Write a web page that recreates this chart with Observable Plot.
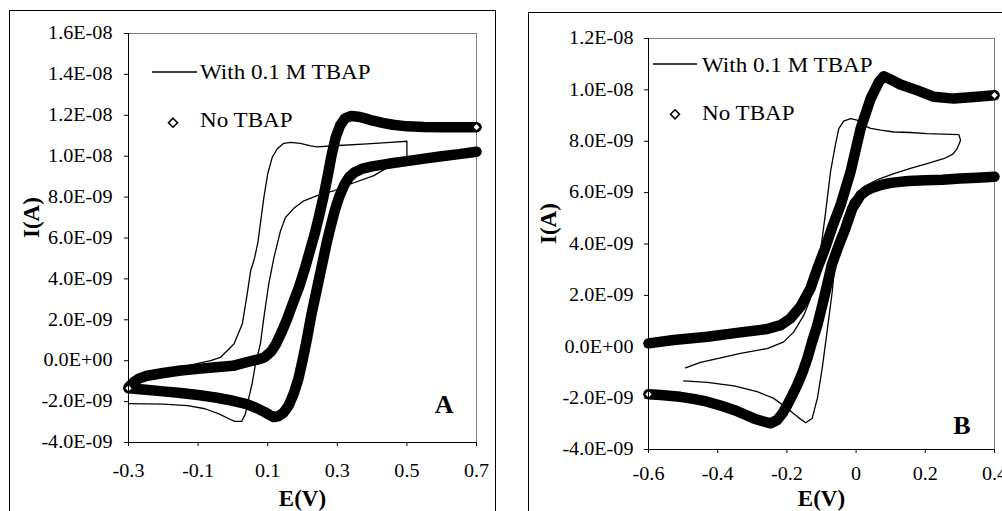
<!DOCTYPE html>
<html><head><meta charset="utf-8">
<script src="https://cdn.jsdelivr.net/npm/d3@7"></script>
<script src="https://cdn.jsdelivr.net/npm/@observablehq/plot@0.6"></script>
<style>
html,body{margin:0;padding:0;background:#fff;}
#page{position:relative;width:1002px;height:511px;overflow:hidden;background:#fff;font-family:'Liberation Serif','Times New Roman',serif;}
.box{position:absolute;border:1px solid #000;box-sizing:border-box;}
.plotwrap{position:absolute;}
.plotwrap svg{display:block;max-width:none;overflow:visible;}
#legend{position:absolute;left:0;top:0;pointer-events:none;}
</style></head><body>
<div id="page">
  <div class="box" style="left:9px;top:10px;width:487px;height:540px"></div>
  <div class="box" style="left:528px;top:12px;width:540px;height:540px"></div>
  <div class="plotwrap" id="A" style="left:10px;top:11px"></div>
  <div class="plotwrap" id="B" style="left:529px;top:13px"></div>
  <svg id="legend" width="1002" height="511"></svg>
</div>
<script>
// ---------- shared text ----------
const xTitle = "E(V)";
const yTitle = "I(A)";
const legendLabels = ["With 0.1 M TBAP", "No TBAP"];

// ---------- Panel A ----------
const xDomainA = [-0.3, 0.7];
const yDomainA = [-4, 16];             // current in 1E-09 A
const xTicksA = [-0.3, -0.1, 0.1, 0.3, 0.5, 0.7];
const xTickLabelsA = ["-0.3", "-0.1", "0.1", "0.3", "0.5", "0.7"];
const yTicksA = [-4, -2, 0, 2, 4, 6, 8, 10, 12, 14, 16];
const yTickLabelsA = ["-4.0E-09","-2.0E-09","0.0E+00","2.0E-09","4.0E-09","6.0E-09","8.0E-09","1.0E-08","1.2E-08","1.4E-08","1.6E-08"];
// With 0.1 M TBAP, [E (V), I (1E-09 A)]
const tbapA = [
  [-0.30,-2.10],[-0.20,-2.12],[-0.13,-2.20],[-0.08,-2.35],[-0.04,-2.60],[-0.01,-2.85],[0.005,-2.97],[0.025,-2.97],
  [0.036,-2.60],[0.046,-1.79],[0.055,-1.14],[0.065,-0.16],[0.079,0.82],[0.089,2.12],[0.103,3.75],[0.118,5.05],
  [0.137,6.36],[0.151,7.00],[0.175,7.45],[0.204,7.82],[0.242,8.07],[0.271,8.23],[0.290,8.31],[0.338,8.64],
  [0.405,9.05],[0.450,9.50],[0.500,10.00],[0.500,10.73],[0.453,10.68],[0.386,10.60],[0.290,10.51],[0.242,10.46],
  [0.223,10.51],[0.194,10.63],[0.166,10.68],[0.146,10.63],[0.127,10.35],[0.113,9.94],[0.100,9.13],[0.089,7.99],
  [0.079,6.70],[0.072,5.80],[0.062,5.00],[0.051,4.40],[0.041,3.26],[0.027,1.79],[0.003,0.82],[-0.036,0.16],
  [-0.064,0.00],[-0.12,-0.20],[-0.20,-0.50],[-0.30,-1.20]
];
// No TBAP, negative-going sweep
const noA_neg = [
  [0.70,10.22],[0.65,10.10],[0.60,10.00],[0.55,9.88],[0.50,9.76],[0.45,9.64],[0.40,9.50],[0.37,9.38],[0.35,9.22],
  [0.335,9.00],[0.32,8.60],[0.305,8.00],[0.292,7.30],[0.28,6.50],[0.27,5.80],[0.255,4.60],[0.24,3.40],[0.225,2.20],
  [0.212,1.00],[0.20,0.00],[0.188,-0.90],[0.175,-1.60],[0.16,-2.20],[0.145,-2.55],[0.13,-2.72],[0.117,-2.75],
  [0.105,-2.65],[0.09,-2.50],[0.07,-2.33],[0.04,-2.12],[0.00,-1.96],[-0.05,-1.80],[-0.10,-1.68],[-0.15,-1.58],
  [-0.20,-1.50],[-0.25,-1.42],[-0.30,-1.35]
];
// No TBAP, positive-going sweep
const noA_pos = [
  [-0.30,-1.30],[-0.285,-1.05],[-0.27,-0.88],[-0.25,-0.75],[-0.20,-0.60],[-0.15,-0.48],[-0.10,-0.40],[-0.05,-0.32],
  [0.00,-0.25],[0.04,-0.07],[0.07,0.05],[0.09,0.16],[0.11,0.45],[0.125,0.85],[0.14,1.40],[0.155,2.00],[0.17,2.70],
  [0.19,3.60],[0.205,4.40],[0.22,5.30],[0.235,6.20],[0.248,7.10],[0.26,8.00],[0.272,9.00],[0.283,10.00],[0.295,10.90],
  [0.308,11.50],[0.322,11.85],[0.34,11.97],[0.36,11.93],[0.38,11.85],[0.40,11.75],[0.43,11.63],[0.46,11.54],
  [0.50,11.46],[0.55,11.43],[0.60,11.42],[0.65,11.42],[0.70,11.42]
];

// ---------- Panel B ----------
const xDomainB = [-0.6, 0.4];
const yDomainB = [-4, 12];
const xTicksB = [-0.6, -0.4, -0.2, 0, 0.2, 0.4];
const xTickLabelsB = ["-0.6", "-0.4", "-0.2", "0", "0.2", "0.4"];
const yTicksB = [-4, -2, 0, 2, 4, 6, 8, 10, 12];
const yTickLabelsB = ["-4.0E-09","-2.0E-09","0.0E+00","2.0E-09","4.0E-09","6.0E-09","8.0E-09","1.0E-08","1.2E-08"];
const tbapB = [
  [-0.498,-1.33],[-0.43,-1.39],[-0.353,-1.52],[-0.286,-1.75],[-0.238,-2.01],[-0.199,-2.40],[-0.17,-2.72],[-0.146,-2.96],
  [-0.127,-2.79],[-0.112,-2.01],[-0.098,-0.84],[-0.084,0.58],[-0.069,2.14],[-0.06,3.43],[-0.05,4.30],[-0.035,5.00],
  [-0.015,5.70],[0.02,6.20],[0.06,6.50],[0.109,6.74],[0.157,6.94],[0.205,7.13],[0.253,7.32],[0.28,7.50],[0.292,7.71],
  [0.302,8.04],[0.297,8.26],[0.25,8.28],[0.205,8.30],[0.157,8.34],[0.109,8.36],[0.071,8.43],[0.042,8.50],[0.022,8.62],
  [0.003,8.82],[-0.016,8.88],[-0.036,8.78],[-0.05,8.49],[-0.06,7.85],[-0.074,6.81],[-0.088,5.25],[-0.103,3.70],
  [-0.117,2.79],[-0.132,1.88],[-0.151,1.23],[-0.18,0.58],[-0.209,0.19],[-0.257,-0.07],[-0.334,-0.26],[-0.401,-0.46],
  [-0.45,-0.61],[-0.493,-0.82]
];
const noB_neg = [
  [0.40,6.62],[0.35,6.58],[0.30,6.55],[0.25,6.50],[0.20,6.48],[0.15,6.45],[0.10,6.38],[0.07,6.29],[0.045,6.18],
  [0.03,6.08],[0.013,5.90],[-0.011,5.38],[-0.031,4.60],[-0.05,3.95],[-0.07,3.20],[-0.084,2.40],[-0.098,1.60],
  [-0.112,0.84],[-0.127,0.20],[-0.141,-0.46],[-0.155,-1.00],[-0.17,-1.49],[-0.185,-1.90],[-0.199,-2.27],
  [-0.213,-2.60],[-0.228,-2.85],[-0.247,-2.98],[-0.27,-2.90],[-0.296,-2.79],[-0.325,-2.62],[-0.353,-2.46],
  [-0.39,-2.30],[-0.43,-2.14],[-0.47,-2.03],[-0.508,-1.95],[-0.565,-1.88],[-0.60,-1.85]
];
const noB_pos = [
  [-0.60,0.13],[-0.527,0.26],[-0.43,0.39],[-0.334,0.56],[-0.257,0.69],[-0.218,0.84],[-0.19,1.10],[-0.161,1.56],
  [-0.132,2.27],[-0.112,3.05],[-0.09,3.82],[-0.068,4.70],[-0.045,5.51],[-0.016,6.81],[0.013,8.49],[0.042,9.66],
  [0.066,10.31],[0.08,10.53],[0.10,10.40],[0.128,10.21],[0.177,9.98],[0.225,9.73],[0.282,9.66],[0.34,9.72],[0.40,9.79]
];

const FONT = "'Liberation Serif','Times New Roman',serif";

function panel(o) {
  const tbRows = o.tbap.map(([E, I]) => ({E, I}));
  const noRows = [
    ...o.neg.map(([E, I]) => ({E, I, s: "neg"})),
    ...o.pos.map(([E, I]) => ({E, I, s: "pos"}))
  ];
  const svg = Plot.plot({
    width: o.width, height: o.height,
    marginLeft: o.ml, marginRight: o.mr, marginTop: o.mt, marginBottom: o.mb,
    x: {domain: o.xDomain},
    y: {domain: o.yDomain},
    style: {fontFamily: FONT, fontSize: "18px", background: "white", color: "black", overflow: "visible"},
    marks: [
      Plot.frame({stroke: "#808080", strokeWidth: 1}),
      Plot.line(tbRows, {x: "E", y: "I", stroke: "black", strokeWidth: 1.3}),
      Plot.line(noRows, {x: "E", y: "I", z: "s", stroke: "black", strokeWidth: 10.5, strokeLinejoin: "round", strokeLinecap: "round"}),
      Plot.dot(noRows, Plot.selectLast({x: "E", y: "I", z: "s", symbol: "diamond2", r: 3.8, fill: "white", stroke: "black", strokeWidth: 1.6})),
      Plot.ruleX([o.xDomain[0]], {stroke: "black"}),
      Plot.ruleY([o.yDomain[0]], {stroke: "black"}),
      Plot.axisX(o.xTicks, {tickSize: 4, tickPadding: o.xPad, tickFormat: d => o.xLabels[o.xTicks.indexOf(d)], label: null, fontSize: 18}),
      Plot.axisY(o.yTicks, {tickSize: 4, tickPadding: o.yPad, tickFormat: d => o.yLabels[o.yTicks.indexOf(d)], label: null, fontSize: 18}),
      Plot.text([xTitle], {text: d => d, frameAnchor: "bottom", lineAnchor: "bottom", dy: o.xTitleDy, fontWeight: "bold", fontSize: 23, ariaLabel: "axis title"}),
      Plot.text([yTitle], {text: d => d, frameAnchor: "left", rotate: -90, dx: o.yTitleDx, fontWeight: "bold", fontSize: 23, ariaLabel: "axis title"}),
      Plot.text([o.letter], {text: d => d, frameAnchor: "bottom-right", textAnchor: "end", lineAnchor: "bottom", dx: o.letterDx, dy: o.letterDy, fontWeight: "bold", fontSize: 26, ariaLabel: "panel letter"})
    ]
  });
  const rules = [
    ['g[aria-label="x-axis tick label"] text', 1.12],
    ['g[aria-label="y-axis tick label"] text', 1.12],
    ['g[aria-label="axis title"] text', 1.18],
    ['g[aria-label="panel letter"] text', 1.12]
  ];
  for (const [sel, k] of rules) {
    svg.querySelectorAll(sel).forEach(t => {
      const tr = t.getAttribute("transform") || "";
      t.setAttribute("transform", tr + ` scale(${k},1)`);
    });
  }
  return svg;
}

document.getElementById("A").appendChild(panel({
  width: 485, height: 500, ml: 118, mr: 19, mt: 22, mb: 69,
  xDomain: xDomainA, yDomain: yDomainA, xTicks: xTicksA, xLabels: xTickLabelsA, yTicks: yTicksA, yLabels: yTickLabelsA,
  tbap: tbapA, neg: noA_neg, pos: noA_pos, letter: "A",
  xPad: 18, yPad: 12, xTitleDy: 63, yTitleDx: -97, letterDx: -23, letterDy: -30
}));
document.getElementById("B").appendChild(panel({
  width: 473, height: 498, ml: 119, mr: 8, mt: 25, mb: 62,
  xDomain: xDomainB, yDomain: yDomainB, xTicks: xTicksB, xLabels: xTickLabelsB, yTicks: yTicksB, yLabels: yTickLabelsB,
  tbap: tbapB, neg: noB_neg, pos: noB_pos, letter: "B",
  xPad: 14, yPad: 11, xTitleDy: 56, yTitleDx: -100, letterDx: -24, letterDy: -16
}));

// ---------- legends (drawn inside each panel) ----------
const ns = "http://www.w3.org/2000/svg";
const leg = document.getElementById("legend");
function el(name, attrs, text) {
  const e = document.createElementNS(ns, name);
  for (const k in attrs) e.setAttribute(k, attrs[k]);
  if (text) e.textContent = text;
  leg.appendChild(e);
  return e;
}
const legendPos = [
  {lx1: 152, lx2: 197, ly: 72, tx: 200, t1y: 79, dx: 173, dy: 122.7, t2y: 127},
  {lx1: 653, lx2: 697, ly: 64, tx: 702, t1y: 71.5, dx: 675, dy: 114.3, t2y: 120}
];
for (const p of legendPos) {
  el("line", {x1: p.lx1, x2: p.lx2, y1: p.ly, y2: p.ly, stroke: "black", "stroke-width": 1.3});
  el("text", {transform: `translate(${p.tx},${p.t1y}) scale(1.05,1)`, "font-family": FONT, "font-size": 22, fill: "black"}, legendLabels[0]);
  el("path", {d: `M${p.dx},${p.dy - 4.5}L${p.dx + 4.5},${p.dy}L${p.dx},${p.dy + 4.5}L${p.dx - 4.5},${p.dy}Z`, fill: "white", stroke: "black", "stroke-width": 1.6});
  el("text", {transform: `translate(${p.tx},${p.t2y}) scale(1.05,1)`, "font-family": FONT, "font-size": 22, fill: "black"}, legendLabels[1]);
}
</script>
</body></html>
